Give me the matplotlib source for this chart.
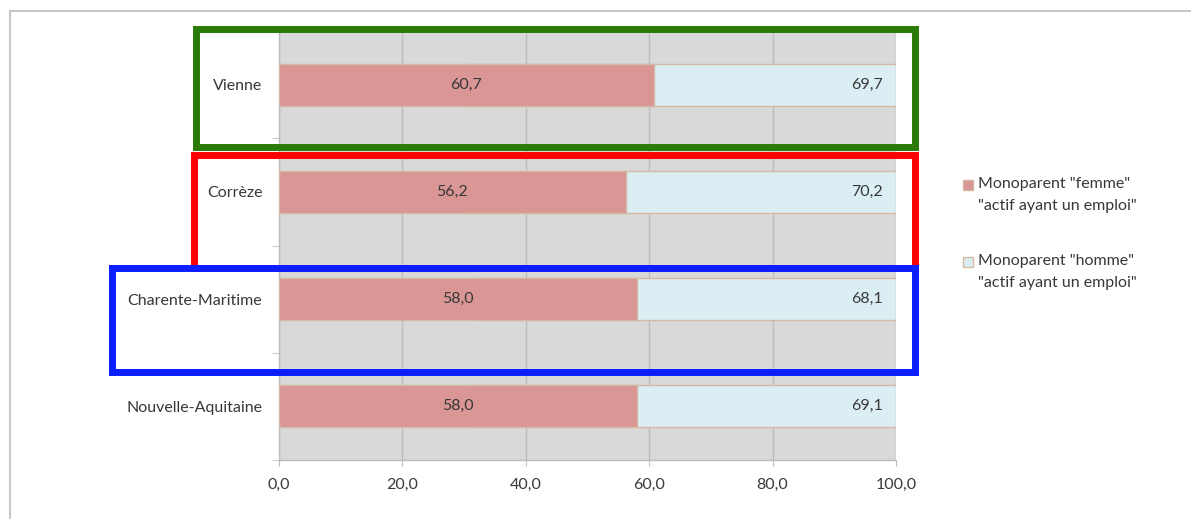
import matplotlib.pyplot as plt
from matplotlib.patches import Rectangle
from matplotlib.lines import Line2D

regions = ["Vienne", "Corrèze", "Charente-Maritime", "Nouvelle-Aquitaine"]
femme = [60.7, 56.2, 58.0, 58.0]
homme = [69.7, 70.2, 68.1, 69.1]
x_ticks = [0, 20, 40, 60, 80, 100]
series_labels = ['Monoparent "femme"\n"actif ayant un emploi"',
                 'Monoparent "homme"\n"actif ayant un emploi"']

plt.rcParams['font.family'] = ['Lato', 'DejaVu Sans']

W, H = 1191, 519
C_FEMME = '#d99694'
C_HOMME = '#dbeef4'
C_EDGE = '#d5b9a5'
C_TEXT = '#383838'
C_GRID = '#bcbcbc'
FS = 11.5


def frac(x0, y0, x1, y1):
    # pixel box (top-left origin) -> figure fraction [left, bottom, width, height]
    return [x0 / W, 1 - y1 / H, (x1 - x0) / W, (y1 - y0) / H]


fig = plt.figure(figsize=(W / 100, H / 100), dpi=100)
ax = fig.add_axes(frac(279, 31, 896, 460))
ax.set_facecolor('#d9d9d9')

y = list(range(len(regions)))
bh = 0.39

# homme bars sit behind, right-aligned on 100; femme bars overlay from 0
ax.barh(y, homme, left=[100 - h for h in homme], height=bh, color=C_HOMME,
        edgecolor=C_EDGE, linewidth=1, zorder=2)
ax.barh(y, femme, height=bh, color=C_FEMME, edgecolor=C_EDGE, linewidth=1, zorder=3)

for yi, f, h in zip(y, femme, homme):
    ax.text(f / 2, yi, f"{f:.1f}".replace('.', ','), ha='center', va='center',
            fontsize=FS, color=C_TEXT, zorder=4)
    ax.annotate(f"{h:.1f}".replace('.', ','), xy=(100, yi), xytext=(-9.5, 0),
                textcoords='offset points', ha='right', va='center',
                fontsize=FS, color=C_TEXT, zorder=4)

ax.set_xlim(0, 100)
ax.set_ylim(len(regions) - 0.5, -0.5)
ax.set_xticks(x_ticks)
ax.set_xticklabels([f"{v:.1f}".replace('.', ',') for v in x_ticks])
ax.set_yticks(y)
ax.set_yticklabels(regions)
ax.set_yticks([i + 0.5 for i in y], minor=True)

ax.set_axisbelow(True)
ax.grid(axis='x', color=C_GRID, linewidth=1, zorder=1)
for s in ('top', 'right'):
    ax.spines[s].set_visible(False)
for s in ('left', 'bottom'):
    ax.spines[s].set_color(C_GRID)
    ax.spines[s].set_linewidth(1)

ax.tick_params(axis='x', length=4, color=C_GRID, labelsize=FS, labelcolor=C_TEXT, pad=9)
ax.tick_params(axis='y', which='major', length=0, labelsize=FS, labelcolor=C_TEXT, pad=12)
ax.tick_params(axis='y', which='minor', length=5, color=C_GRID)

# legend
for (ty, col), lab in zip([(180, C_FEMME), (257, C_HOMME)], series_labels):
    fig.patches.append(Rectangle((963 / W, 1 - (ty + 10) / H), 10 / W, 10 / H,
                                 facecolor=col, edgecolor=C_EDGE, linewidth=1,
                                 transform=fig.transFigure))
    fig.text(978 / W, 1 - (ty - 3) / H, lab, ha='left', va='top', fontsize=FS,
             color=C_TEXT, linespacing=1.75)

# outer chart frame
fig.lines.append(Line2D([10 / W, 10 / W], [0, 1 - 11 / H], color='#c8c8c8',
                        linewidth=1.5, transform=fig.transFigure))
fig.lines.append(Line2D([10 / W, 1], [1 - 11 / H, 1 - 11 / H], color='#c8c8c8',
                        linewidth=1.5, transform=fig.transFigure))

# highlight boxes
for (x0, y0, x1, y1), col in [((196, 29, 915, 147), '#2a7a08'),
                              ((194, 155, 915, 268), '#ff0000'),
                              ((112, 268, 915, 372), '#0a1eff')]:
    fig.patches.append(Rectangle((x0 / W, 1 - y1 / H), (x1 - x0) / W, (y1 - y0) / H,
                                 fill=False, edgecolor=col, linewidth=5,
                                 joinstyle='miter', transform=fig.transFigure,
                                 zorder=10))

fig.savefig('out.png', dpi=100)
